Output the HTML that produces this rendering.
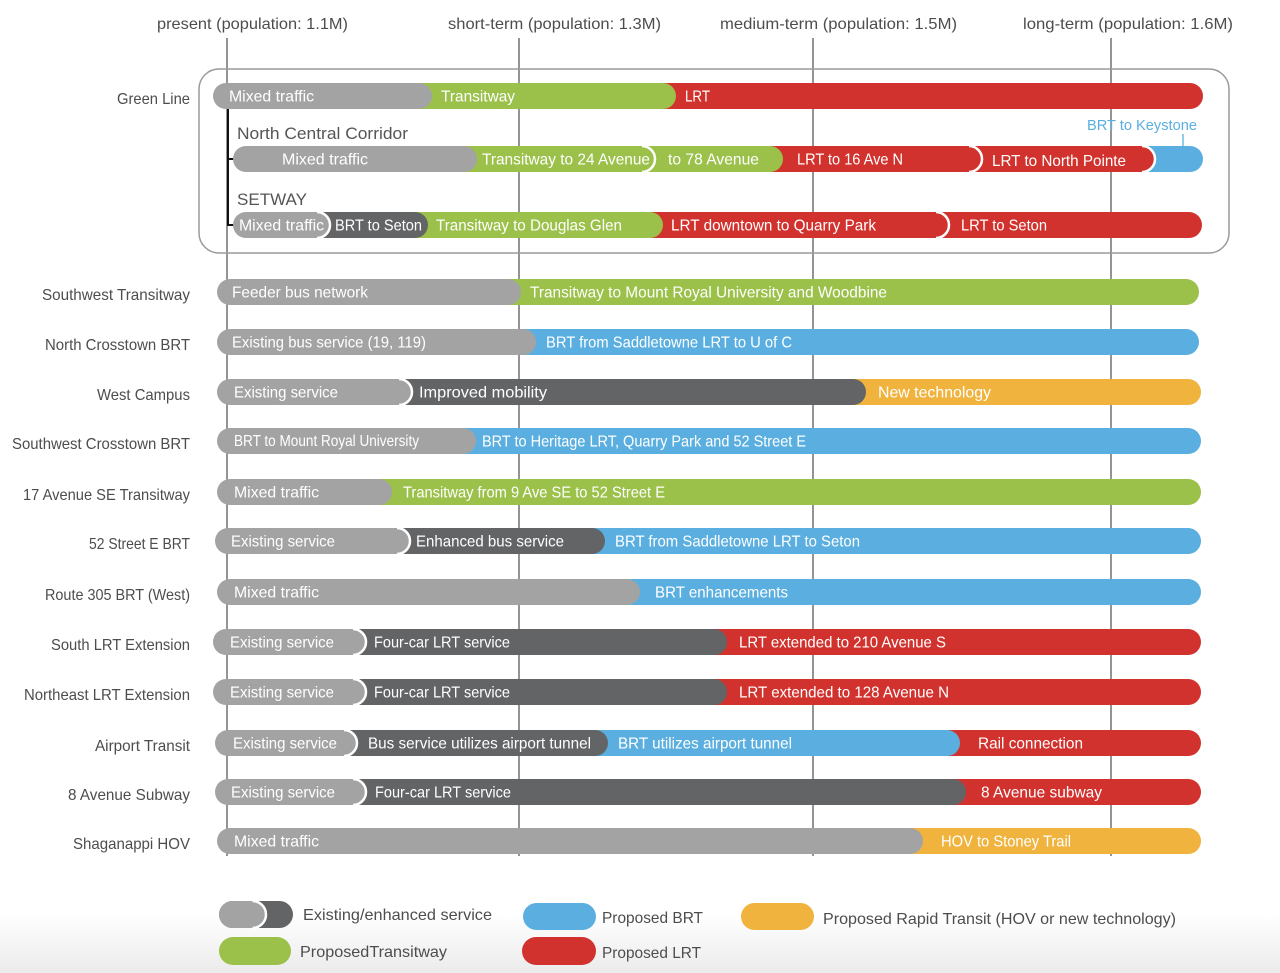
<!DOCTYPE html>
<html><head><meta charset="utf-8"><style>
html,body{margin:0;padding:0;background:#fff}
svg{display:block}
text{font-family:"Liberation Sans",sans-serif}
.b{fill:#fff;font-size:16px}
.l{fill:#4d4d4d;font-size:16px}
.st{fill:none;stroke:#fff;stroke-width:2.5}
</style></head><body>
<svg width="1280" height="973" viewBox="0 0 1280 973" xmlns="http://www.w3.org/2000/svg">
<defs><linearGradient id="bg" x1="0" y1="0" x2="0" y2="1"><stop offset="0" stop-color="#ffffff"/><stop offset="1" stop-color="#ebebeb"/></linearGradient></defs>
<rect x="0" y="0" width="1280" height="973" fill="#fff"/>
<rect x="0" y="915" width="1280" height="58" fill="url(#bg)"/>

<!-- top labels -->
<text class="l" x="157" y="29" textLength="191" lengthAdjust="spacingAndGlyphs">present (population: 1.1M)</text>
<text class="l" x="448" y="29" textLength="213" lengthAdjust="spacingAndGlyphs">short-term (population: 1.3M)</text>
<text class="l" x="720" y="29" textLength="237" lengthAdjust="spacingAndGlyphs">medium-term (population: 1.5M)</text>
<text class="l" x="1023" y="29" textLength="210" lengthAdjust="spacingAndGlyphs">long-term (population: 1.6M)</text>

<!-- vertical lines -->
<g stroke="#5a5a5a" stroke-width="1.3">
<line x1="227" y1="38" x2="227" y2="856"/>
<line x1="519" y1="38" x2="519" y2="856"/>
<line x1="813" y1="38" x2="813" y2="856"/>
<line x1="1111" y1="38" x2="1111" y2="856"/>
</g>

<!-- green line box -->
<rect x="199" y="69" width="1030" height="184" rx="20" fill="none" stroke="#9a9a9a" stroke-width="1.5"/>
<g stroke="#111" stroke-width="2">
<line x1="228" y1="109" x2="228" y2="226"/>
<line x1="228" y1="159" x2="237" y2="159"/>
<line x1="228" y1="225" x2="237" y2="225"/>
</g>

<!-- row labels -->
<g class="l" text-anchor="end">
<text x="190" y="104" textLength="73" lengthAdjust="spacingAndGlyphs">Green Line</text>
<text x="190" y="300" textLength="148" lengthAdjust="spacingAndGlyphs">Southwest Transitway</text>
<text x="190" y="350" textLength="145" lengthAdjust="spacingAndGlyphs">North Crosstown BRT</text>
<text x="190" y="400" textLength="93" lengthAdjust="spacingAndGlyphs">West Campus</text>
<text x="190" y="449" textLength="178" lengthAdjust="spacingAndGlyphs">Southwest Crosstown BRT</text>
<text x="190" y="500" textLength="167" lengthAdjust="spacingAndGlyphs">17 Avenue SE Transitway</text>
<text x="190" y="549" textLength="101" lengthAdjust="spacingAndGlyphs">52 Street E BRT</text>
<text x="190" y="600" textLength="145" lengthAdjust="spacingAndGlyphs">Route 305 BRT (West)</text>
<text x="190" y="650" textLength="139" lengthAdjust="spacingAndGlyphs">South LRT Extension</text>
<text x="190" y="700" textLength="166" lengthAdjust="spacingAndGlyphs">Northeast LRT Extension</text>
<text x="190" y="751" textLength="95" lengthAdjust="spacingAndGlyphs">Airport Transit</text>
<text x="190" y="800" textLength="122" lengthAdjust="spacingAndGlyphs">8 Avenue Subway</text>
<text x="190" y="849" textLength="117" lengthAdjust="spacingAndGlyphs">Shaganappi HOV</text>
</g>

<!-- group labels -->
<text x="237" y="139" fill="#555" font-size="17" textLength="171" lengthAdjust="spacingAndGlyphs">North Central Corridor</text>
<text x="237" y="205" fill="#555" font-size="17" textLength="70" lengthAdjust="spacingAndGlyphs">SETWAY</text>
<text x="1087" y="130" fill="#5aafe0" font-size="15" textLength="110" lengthAdjust="spacingAndGlyphs">BRT to Keystone</text>
<line x1="1183" y1="134" x2="1183" y2="147" stroke="#5aafe0" stroke-width="1.3"/>

<!-- Green Line c=96 -->
<rect x="650" y="83" width="553" height="26" rx="13" fill="#d2322d"/>
<rect x="406" y="83" width="270" height="26" rx="13" fill="#9bc14a"/>
<rect x="213" y="83" width="219" height="26" rx="13" fill="#a3a3a3"/>
<text class="b" x="229" y="101.5" textLength="85" lengthAdjust="spacingAndGlyphs">Mixed traffic</text>
<text class="b" x="441" y="101.5" textLength="74" lengthAdjust="spacingAndGlyphs">Transitway</text>
<text class="b" x="685" y="101.5" textLength="25" lengthAdjust="spacingAndGlyphs">LRT</text>

<!-- NCC c=159 -->
<rect x="1129" y="146" width="74" height="26" rx="13" fill="#5aafe0"/>
<rect x="956" y="146" width="199" height="26" rx="13" fill="#d2322d"/>
<path class="st" d="M1142 146 A13 13 0 0 1 1142 172"/>
<rect x="757" y="146" width="225" height="26" rx="13" fill="#d2322d"/>
<path class="st" d="M969 146 A13 13 0 0 1 969 172"/>
<rect x="629" y="146" width="154" height="26" rx="13" fill="#9bc14a"/>
<rect x="451" y="146" width="204" height="26" rx="13" fill="#9bc14a"/>
<path class="st" d="M642 146 A13 13 0 0 1 642 172"/>
<rect x="233" y="146" width="244" height="26" rx="13" fill="#a3a3a3"/>
<text class="b" x="282" y="164.5" textLength="86" lengthAdjust="spacingAndGlyphs">Mixed traffic</text>
<text class="b" x="482" y="164.5" textLength="168" lengthAdjust="spacingAndGlyphs">Transitway to 24 Avenue</text>
<text class="b" x="668" y="164.5" textLength="91" lengthAdjust="spacingAndGlyphs">to 78 Avenue</text>
<text class="b" x="797" y="164.5" textLength="106" lengthAdjust="spacingAndGlyphs">LRT to 16 Ave N</text>
<text class="b" x="992" y="166" textLength="134" lengthAdjust="spacingAndGlyphs">LRT to North Pointe</text>

<!-- SETWAY c=225 -->
<rect x="923" y="212" width="279" height="26" rx="13" fill="#d2322d"/>
<rect x="637" y="212" width="312" height="26" rx="13" fill="#d2322d"/>
<path class="st" d="M936 212 A13 13 0 0 1 936 238"/>
<rect x="402" y="212" width="261" height="26" rx="13" fill="#9bc14a"/>
<rect x="304" y="212" width="124" height="26" rx="13" fill="#636466"/>
<rect x="233" y="212" width="97" height="26" rx="13" fill="#a3a3a3"/>
<path class="st" d="M317 212 A13 13 0 0 1 317 238"/>
<text class="b" x="239" y="230.5" textLength="85" lengthAdjust="spacingAndGlyphs">Mixed traffic</text>
<text class="b" x="335" y="230.5" textLength="87" lengthAdjust="spacingAndGlyphs">BRT to Seton</text>
<text class="b" x="436" y="230.5" textLength="186" lengthAdjust="spacingAndGlyphs">Transitway to Douglas Glen</text>
<text class="b" x="671" y="230.5" textLength="205" lengthAdjust="spacingAndGlyphs">LRT downtown to Quarry Park</text>
<text class="b" x="961" y="230.5" textLength="86" lengthAdjust="spacingAndGlyphs">LRT to Seton</text>

<!-- Southwest Transitway c=292 -->
<rect x="495" y="279" width="704" height="26" rx="13" fill="#9bc14a"/>
<rect x="217" y="279" width="304" height="26" rx="13" fill="#a3a3a3"/>
<text class="b" x="232" y="297.5" textLength="136" lengthAdjust="spacingAndGlyphs">Feeder bus network</text>
<text class="b" x="530" y="297.5" textLength="357" lengthAdjust="spacingAndGlyphs">Transitway to Mount Royal University and Woodbine</text>

<!-- North Crosstown c=342 -->
<rect x="510" y="329" width="689" height="26" rx="13" fill="#5aafe0"/>
<rect x="217" y="329" width="319" height="26" rx="13" fill="#a3a3a3"/>
<text class="b" x="232" y="347.5" textLength="194" lengthAdjust="spacingAndGlyphs">Existing bus service (19, 119)</text>
<text class="b" x="546" y="347.5" textLength="246" lengthAdjust="spacingAndGlyphs">BRT from Saddletowne LRT to U of C</text>

<!-- West Campus c=392 -->
<rect x="840" y="379" width="361" height="26" rx="13" fill="#efb33e"/>
<rect x="386" y="379" width="480" height="26" rx="13" fill="#636466"/>
<rect x="217" y="379" width="195" height="26" rx="13" fill="#a3a3a3"/>
<path class="st" d="M399 379 A13 13 0 0 1 399 405"/>
<text class="b" x="234" y="397.5" textLength="104" lengthAdjust="spacingAndGlyphs">Existing service</text>
<text class="b" x="419" y="397.5" textLength="128" lengthAdjust="spacingAndGlyphs">Improved mobility</text>
<text class="b" x="878" y="397.5" textLength="113" lengthAdjust="spacingAndGlyphs">New technology</text>

<!-- SW Crosstown c=441 -->
<rect x="450" y="428" width="751" height="26" rx="13" fill="#5aafe0"/>
<rect x="217" y="428" width="259" height="26" rx="13" fill="#a3a3a3"/>
<text class="b" x="234" y="446" font-size="14" textLength="185" lengthAdjust="spacingAndGlyphs">BRT to Mount Royal University</text>
<text class="b" x="482" y="446.5" textLength="324" lengthAdjust="spacingAndGlyphs">BRT to Heritage LRT, Quarry Park and 52 Street E</text>

<!-- 17 Ave c=492 -->
<rect x="366" y="479" width="835" height="26" rx="13" fill="#9bc14a"/>
<rect x="217" y="479" width="175" height="26" rx="13" fill="#a3a3a3"/>
<text class="b" x="234" y="497.5" textLength="85" lengthAdjust="spacingAndGlyphs">Mixed traffic</text>
<text class="b" x="403" y="497.5" textLength="262" lengthAdjust="spacingAndGlyphs">Transitway from 9 Ave SE to 52 Street E</text>

<!-- 52 Street c=541 -->
<rect x="579" y="528" width="622" height="26" rx="13" fill="#5aafe0"/>
<rect x="384" y="528" width="221" height="26" rx="13" fill="#636466"/>
<rect x="215" y="528" width="195" height="26" rx="13" fill="#a3a3a3"/>
<path class="st" d="M397 528 A13 13 0 0 1 397 554"/>
<text class="b" x="231" y="546.5" textLength="104" lengthAdjust="spacingAndGlyphs">Existing service</text>
<text class="b" x="416" y="546.5" textLength="148" lengthAdjust="spacingAndGlyphs">Enhanced bus service</text>
<text class="b" x="615" y="546.5" textLength="245" lengthAdjust="spacingAndGlyphs">BRT from Saddletowne LRT to Seton</text>

<!-- Route 305 c=592 -->
<rect x="614" y="579" width="587" height="26" rx="13" fill="#5aafe0"/>
<rect x="217" y="579" width="423" height="26" rx="13" fill="#a3a3a3"/>
<text class="b" x="234" y="597.5" textLength="85" lengthAdjust="spacingAndGlyphs">Mixed traffic</text>
<text class="b" x="655" y="597.5" textLength="133" lengthAdjust="spacingAndGlyphs">BRT enhancements</text>

<!-- South LRT c=642 -->
<rect x="701" y="629" width="500" height="26" rx="13" fill="#d2322d"/>
<rect x="340" y="629" width="387" height="26" rx="13" fill="#636466"/>
<rect x="213" y="629" width="153" height="26" rx="13" fill="#a3a3a3"/>
<path class="st" d="M353 629 A13 13 0 0 1 353 655"/>
<text class="b" x="230" y="647.5" textLength="104" lengthAdjust="spacingAndGlyphs">Existing service</text>
<text class="b" x="374" y="647.5" textLength="136" lengthAdjust="spacingAndGlyphs">Four-car LRT service</text>
<text class="b" x="739" y="647.5" textLength="207" lengthAdjust="spacingAndGlyphs">LRT extended to 210 Avenue S</text>

<!-- Northeast LRT c=692 -->
<rect x="690" y="679" width="511" height="26" rx="13" fill="#d2322d"/>
<rect x="340" y="679" width="387" height="26" rx="13" fill="#636466"/>
<rect x="213" y="679" width="153" height="26" rx="13" fill="#a3a3a3"/>
<path class="st" d="M353 679 A13 13 0 0 1 353 705"/>
<text class="b" x="230" y="697.5" textLength="104" lengthAdjust="spacingAndGlyphs">Existing service</text>
<text class="b" x="374" y="697.5" textLength="136" lengthAdjust="spacingAndGlyphs">Four-car LRT service</text>
<text class="b" x="739" y="697.5" textLength="210" lengthAdjust="spacingAndGlyphs">LRT extended to 128 Avenue N</text>

<!-- Airport c=743 -->
<rect x="934" y="730" width="267" height="26" rx="13" fill="#d2322d"/>
<rect x="582" y="730" width="378" height="26" rx="13" fill="#5aafe0"/>
<rect x="331" y="730" width="277" height="26" rx="13" fill="#636466"/>
<rect x="215" y="730" width="142" height="26" rx="13" fill="#a3a3a3"/>
<path class="st" d="M344 730 A13 13 0 0 1 344 756"/>
<text class="b" x="233" y="748.5" textLength="104" lengthAdjust="spacingAndGlyphs">Existing service</text>
<text class="b" x="368" y="748.5" textLength="223" lengthAdjust="spacingAndGlyphs">Bus service utilizes airport tunnel</text>
<text class="b" x="618" y="748.5" textLength="174" lengthAdjust="spacingAndGlyphs">BRT utilizes airport tunnel</text>
<text class="b" x="978" y="748.5" textLength="105" lengthAdjust="spacingAndGlyphs">Rail connection</text>

<!-- 8 Ave c=792 -->
<rect x="940" y="779" width="261" height="26" rx="13" fill="#d2322d"/>
<rect x="340" y="779" width="626" height="26" rx="13" fill="#636466"/>
<rect x="215" y="779" width="151" height="26" rx="13" fill="#a3a3a3"/>
<path class="st" d="M353 779 A13 13 0 0 1 353 805"/>
<text class="b" x="231" y="797.5" textLength="104" lengthAdjust="spacingAndGlyphs">Existing service</text>
<text class="b" x="375" y="797.5" textLength="136" lengthAdjust="spacingAndGlyphs">Four-car LRT service</text>
<text class="b" x="981" y="797.5" textLength="121" lengthAdjust="spacingAndGlyphs">8 Avenue subway</text>

<!-- Shaganappi c=841 -->
<rect x="897" y="828" width="304" height="26" rx="13" fill="#efb33e"/>
<rect x="217" y="828" width="706" height="26" rx="13" fill="#a3a3a3"/>
<text class="b" x="234" y="846.5" textLength="85" lengthAdjust="spacingAndGlyphs">Mixed traffic</text>
<text class="b" x="941" y="846.5" textLength="130" lengthAdjust="spacingAndGlyphs">HOV to Stoney Trail</text>

<!-- legend -->
<rect x="219" y="901" width="74" height="27" rx="13.5" fill="#636466"/>
<rect x="219" y="901" width="47" height="27" rx="13.5" fill="#a3a3a3"/>
<path d="M252.5 901 A13.5 13.5 0 0 1 252.5 928" fill="none" stroke="#fff" stroke-width="2.5"/>
<text class="l" x="303" y="920" textLength="189" lengthAdjust="spacingAndGlyphs">Existing/enhanced service</text>
<rect x="523" y="903" width="73" height="27" rx="13.5" fill="#5aafe0"/>
<text class="l" x="602" y="923" textLength="101" lengthAdjust="spacingAndGlyphs">Proposed BRT</text>
<rect x="741" y="903" width="73" height="27" rx="13.5" fill="#efb33e"/>
<text class="l" x="823" y="924" textLength="353" lengthAdjust="spacingAndGlyphs">Proposed Rapid Transit (HOV or new technology)</text>
<rect x="219" y="937" width="72" height="28" rx="14" fill="#9bc14a"/>
<text class="l" x="300" y="957" textLength="147" lengthAdjust="spacingAndGlyphs">ProposedTransitway</text>
<rect x="522" y="937" width="74" height="28" rx="14" fill="#d2322d"/>
<text class="l" x="602" y="958" textLength="99" lengthAdjust="spacingAndGlyphs">Proposed LRT</text>
</svg>
</body></html>
